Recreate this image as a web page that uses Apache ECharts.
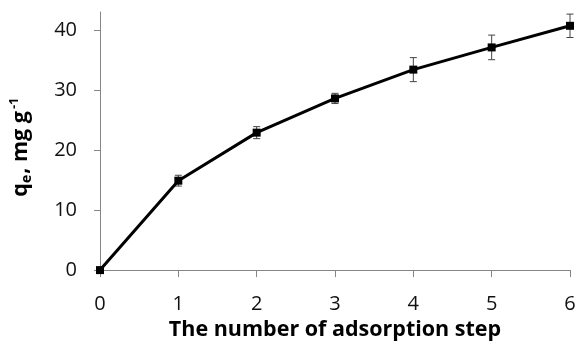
<!DOCTYPE html>
<html><head><meta charset="utf-8">
<script src="https://cdn.jsdelivr.net/npm/echarts@6/dist/echarts.min.js"></script>
<style>html,body{margin:0;padding:0;background:#fff}#c{width:579px;height:346px}</style>
</head><body><div id="c"></div>
<script>
const steps = [0, 1, 2, 3, 4, 5, 6];
const qe = [0, 14.9, 22.9, 28.6, 33.4, 37.1, 40.7];
const qeErr = [0, 0.9, 1.0, 0.85, 2.0, 2.05, 1.95];
const xTicks = [0, 1, 2, 3, 4, 5, 6];
const yTicks = [0, 10, 20, 30, 40];

const FONT = 'Open Sans';
const chart = echarts.init(document.getElementById('c'));
chart.setOption({
  animation: false,
  grid: {left: 100, right: 9, top: 12, bottom: 71, containLabel: false},
  xAxis: {
    type: 'value', min: 0, max: 6, interval: 1,
    name: 'The number of adsorption step', nameLocation: 'middle', nameGap: 47,
    nameTextStyle: {fontFamily: FONT, fontWeight: 'bold', fontSize: 21.5, color: '#000'},
    axisLine: {show: true, onZero: false, lineStyle: {color: '#858585', width: 1}},
    axisTick: {show: true, length: 7, lineStyle: {color: '#858585'}, customValues: xTicks},
    axisLabel: {fontFamily: FONT, fontSize: 20, color: '#111', margin: 24, customValues: xTicks},
    splitLine: {show: false}
  },
  yAxis: {
    type: 'value', min: 0, max: 43,
    name: '{b|q}{s|e}{b|, mg g}{p|-1}', nameLocation: 'middle', nameGap: 66, nameRotate: 90,
    nameTextStyle: {
      color: '#000',
      padding: [0, 12, 0, 0],
      rich: {
        b: {fontFamily: FONT, fontWeight: 'bold', fontSize: 21.5, color: '#000', lineHeight: 26},
        s: {fontFamily: FONT, fontWeight: 'bold', fontSize: 14, color: '#000', lineHeight: 26, verticalAlign: 'bottom', padding: [10, 1, 0, 0]},
        p: {fontFamily: FONT, fontWeight: 'bold', fontSize: 13, color: '#000', lineHeight: 26, verticalAlign: 'top', padding: [0, 0, 10, 2]}
      }
    },
    axisLine: {show: true, lineStyle: {color: '#858585', width: 1}},
    axisTick: {show: true, length: 6, lineStyle: {color: '#858585'}, customValues: yTicks},
    axisLabel: {fontFamily: FONT, fontSize: 20, color: '#111', margin: 23, customValues: yTicks},
    splitLine: {show: false}
  },
  series: [
    {
      type: 'custom',
      clip: false,
      z: 3,
      data: steps.map((s, i) => [s, qe[i], qeErr[i]]),
      renderItem: function (params, api) {
        const x = api.value(0), y = api.value(1), e = api.value(2);
        if (!e) return null;
        const top = api.coord([x, y + e]);
        const bot = api.coord([x, y - e]);
        const hw = 3.5;
        const st = {stroke: '#444', lineWidth: 1, fill: null};
        return {
          type: 'group',
          children: [
            {type: 'line', shape: {x1: top[0], y1: top[1], x2: bot[0], y2: bot[1]}, style: st},
            {type: 'line', shape: {x1: top[0] - hw, y1: top[1], x2: top[0] + hw, y2: top[1]}, style: st},
            {type: 'line', shape: {x1: bot[0] - hw, y1: bot[1], x2: bot[0] + hw, y2: bot[1]}, style: st}
          ]
        };
      }
    },
    {
      type: 'line',
      clip: false,
      z: 4,
      data: steps.map((s, i) => [s, qe[i]]),
      lineStyle: {color: '#000', width: 3},
      itemStyle: {color: '#000'},
      symbol: 'rect',
      symbolSize: 8
    }
  ]
});
</script></body></html>
